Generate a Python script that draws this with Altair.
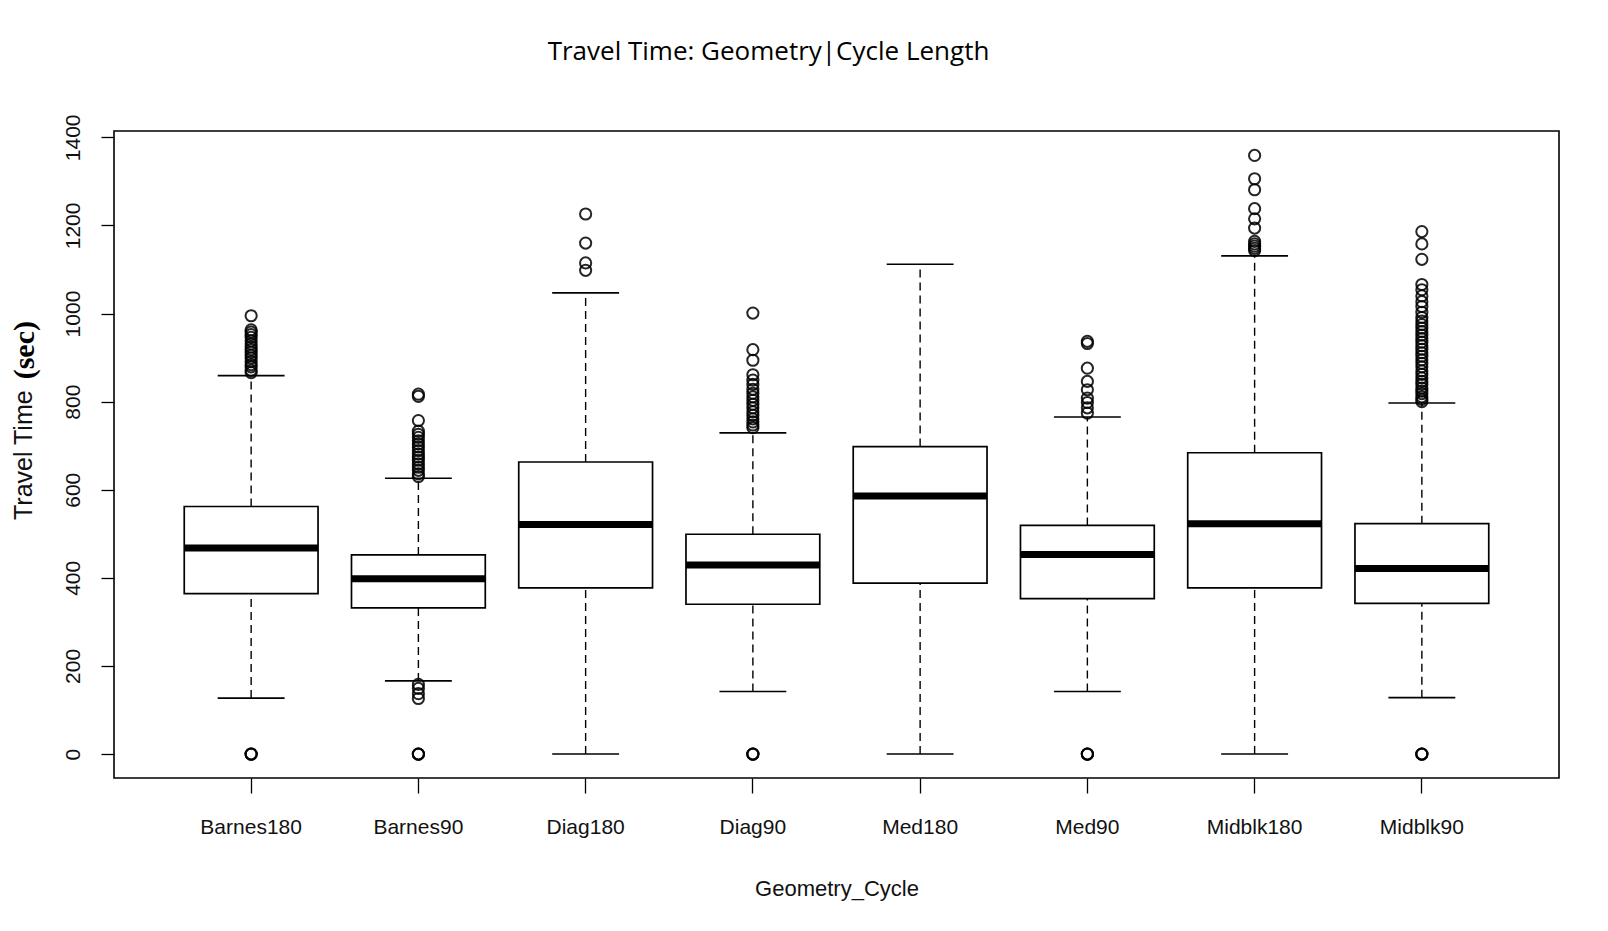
import altair as alt
import pandas as pd

categories = ["Barnes180", "Barnes90", "Diag180", "Diag90", "Med180", "Med90", "Midblk180", "Midblk90"]
whisk_lo = [127, 166, 0, 142, 0, 142, 0, 128]
q1 = [364, 332, 377, 340, 388, 353, 377, 342]
median = [468, 398, 521, 429, 586, 453, 523, 421]
q3 = [562, 452, 663, 499, 698, 519, 684, 523]
whisk_hi = [859, 626, 1047, 729, 1112, 765, 1131, 797]

out_barnes180 = [0, 0, 0, 866, 871, 879, 884, 891, 899, 905, 912, 918, 924, 931, 938, 946, 952, 958, 963, 995]
out_barnes90 = [0, 0, 0, 126, 137, 149, 158, 630, 636, 644, 651, 659, 667, 674, 681, 689, 697, 704, 711, 719, 726, 733, 757, 812, 817]
out_diag180 = [1098, 1115, 1160, 1226]
out_diag90 = [0, 0, 0, 741, 747, 754, 761, 769, 777, 786, 794, 803, 811, 819, 828, 839, 849, 861, 894, 918, 1001]
out_med180 = []
out_med90 = [0, 0, 0, 774, 786, 798, 808, 827, 846, 876, 932, 937]
out_midblk180 = [1143, 1148, 1153, 1158, 1164, 1194, 1215, 1238, 1281, 1306, 1359]
out_midblk90 = [0, 0, 0, 800, 805, 811, 818, 824, 831, 839, 846, 854, 862, 870, 879, 887, 895, 903, 911, 919,
                927, 935, 943, 951, 959, 967, 975, 983, 991, 1003, 1016, 1027, 1040, 1054, 1066, 1123, 1158, 1186]

outliers = [out_barnes180, out_barnes90, out_diag180, out_diag90, out_med180, out_med90, out_midblk180, out_midblk90]

y_ticks = [0, 200, 400, 600, 800, 1000, 1200, 1400]

box_df = pd.DataFrame({"cat": categories, "lo": whisk_lo, "q1": q1, "med": median, "q3": q3, "hi": whisk_hi})
out_df = pd.DataFrame([{"cat": c, "v": v} for c, vals in zip(categories, outliers) for v in vals])

W, H = 1445, 647
step = W / 8.64

xenc = alt.X("cat:N", sort=categories,
             scale=alt.Scale(paddingInner=0.2, paddingOuter=0.42),
             axis=alt.Axis(title="Geometry_Cycle", labelAngle=0, tickSize=15, labelPadding=23,
                           titlePadding=41, domain=False))
yscale = alt.Scale(domain=[-54.4, 1414.4], nice=False, zero=False)
yenc = alt.Y("q1:Q", scale=yscale,
             axis=alt.Axis(title=None, values=y_ticks, format="d", labelAngle=270, labelAlign="center",
                           labelBaseline="middle", tickSize=13, labelPadding=28, domain=False, grid=False))

base = alt.Chart(box_df)

dash = [8, 5]
whisk_low = base.mark_rule(color="black", strokeWidth=1.4, strokeDash=dash).encode(
    x=xenc, y=alt.Y("lo:Q", scale=yscale), y2="q1:Q")
whisk_high = base.mark_rule(color="black", strokeWidth=1.4, strokeDash=dash).encode(
    x=xenc, y=alt.Y("q3:Q", scale=yscale), y2="hi:Q")
cap_lo = base.mark_tick(color="black", orient="horizontal", size=step * 0.4, thickness=1.6, opacity=1).encode(
    x=xenc, y=alt.Y("lo:Q", scale=yscale))
cap_hi = base.mark_tick(color="black", orient="horizontal", size=step * 0.4, thickness=1.6, opacity=1).encode(
    x=xenc, y=alt.Y("hi:Q", scale=yscale))
box = base.mark_bar(fill="white", stroke="black", strokeWidth=1.7, opacity=1).encode(
    x=xenc, y=yenc, y2="q3:Q")
med = base.mark_tick(color="black", orient="horizontal", size=step * 0.8, thickness=7, opacity=1).encode(
    x=xenc, y=alt.Y("med:Q", scale=yscale))
pts = alt.Chart(out_df).mark_point(shape="circle", filled=False, color="black", size=125,
                                   strokeWidth=2, opacity=0.85).encode(
    x=xenc, y=alt.Y("v:Q", scale=yscale))

ylab1 = alt.Chart(pd.DataFrame({"t": ["Travel Time"]})).mark_text(
    angle=270, align="left", baseline="alphabetic", font="Liberation Sans", fontSize=25, color="#111").encode(
    text="t:N", x=alt.value(-82), y=alt.value(389))
ylab2 = alt.Chart(pd.DataFrame({"t": ["(sec)"]})).mark_text(
    angle=270, align="right", baseline="alphabetic", font="Liberation Serif", fontWeight="bold",
    fontSize=30, color="black").encode(
    text="t:N", x=alt.value(-80), y=alt.value(190))

chart = alt.layer(whisk_low, whisk_high, cap_lo, cap_hi, box, med, pts, ylab1, ylab2).properties(
    width=W, height=H,
    background="white",
    title=alt.TitleParams("Travel Time: Geometry|Cycle Length", font="Open Sans", fontSize=26,
                          fontWeight="normal", anchor="middle", frame="group", dx=-68, offset=49,
                          color="black"),
    autosize=alt.AutoSizeParams(type="none"),
    padding={"left": 106, "top": 123, "right": 40, "bottom": 145},
).configure_view(stroke="black", strokeWidth=1.6).configure_axis(
    labelFont="Liberation Sans", labelFontSize=21, labelColor="#111", tickColor="black", tickWidth=1.3,
    titleFont="Liberation Sans", titleFontSize=22, titleFontWeight="normal", titleColor="#111"
)

chart.save("out.html", embed_options={"renderer": "svg", "actions": False})
